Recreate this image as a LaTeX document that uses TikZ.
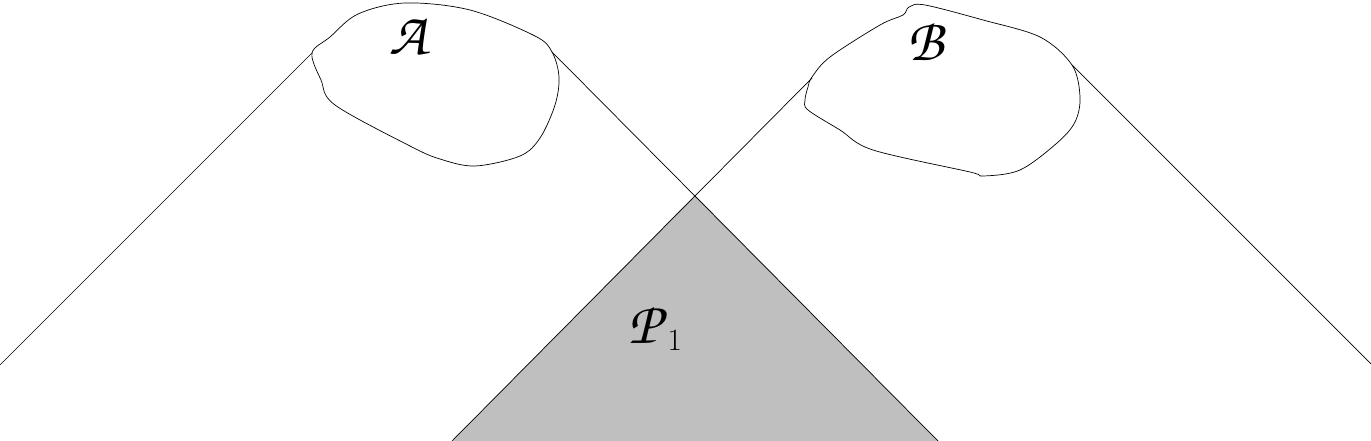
\documentclass[tikz,border=0pt]{standalone}
\usepackage{amsmath}
\usepackage{tikz}
\usetikzlibrary{calc}

\DeclareMathAlphabet{\mathpzc}{OT1}{pzc}{m}{it}

\begin{document}
\begin{tikzpicture}[x=1pt,y=-1pt,line width=0.7pt]
\useasboundingbox (0,0) rectangle (1371,441);

%touching points of the cones on the regions
\coordinate (A1) at (312,53);
\coordinate (A2) at (552,52);
\coordinate (B1) at (812,78);
\coordinate (B2) at (1072,65);
\coordinate (X) at (695,195);

%ends of the cone edges
\coordinate (AL) at (0,365);
\coordinate (AR) at (938,441);
\coordinate (BL) at (452,441);
\coordinate (BR) at (1371,364);

\fill[black!25] (X) -- (BL) -- (AR) -- cycle;

\draw (A1) -- (AL);
\draw (A2) -- (AR);
\draw (B1) -- (BL);
\draw (B2) -- (BR);

%regions
\draw plot[smooth cycle, tension=0.55] coordinates {(312,53) (330,37) (358,14) (405,3) (470,10)
  (535,36) (552,52) (559,77) (555,105) (540,138) (520,156) (475,166) (440,159)
  (410,146) (335,105) (321,80)};
\draw plot[smooth cycle, tension=0.55] coordinates {(812,77) (830,57) (880,25) (903,15) (909,7)
  (925,5) (983,20) (1040,37) (1072,65) (1080,97) (1075,122) (1057,143) (1020,170) (983,176)
  (970,172) (873,150) (840,130) (808,110) (805,100) (808,87)};

\node[font=\fontsize{60}{62}\selectfont] (a) at (410,36) {$\mathpzc{A}$};
\node[font=\fontsize{60}{62}\selectfont] (b) at (928,42) {$\mathpzc{B}$};
\node[font=\fontsize{60}{62}\selectfont] (p) at (655,328)
  {$\mathpzc{P}$\raisebox{-7pt}{\fontsize{31}{31}\selectfont 1}};

\end{tikzpicture}
\end{document}
